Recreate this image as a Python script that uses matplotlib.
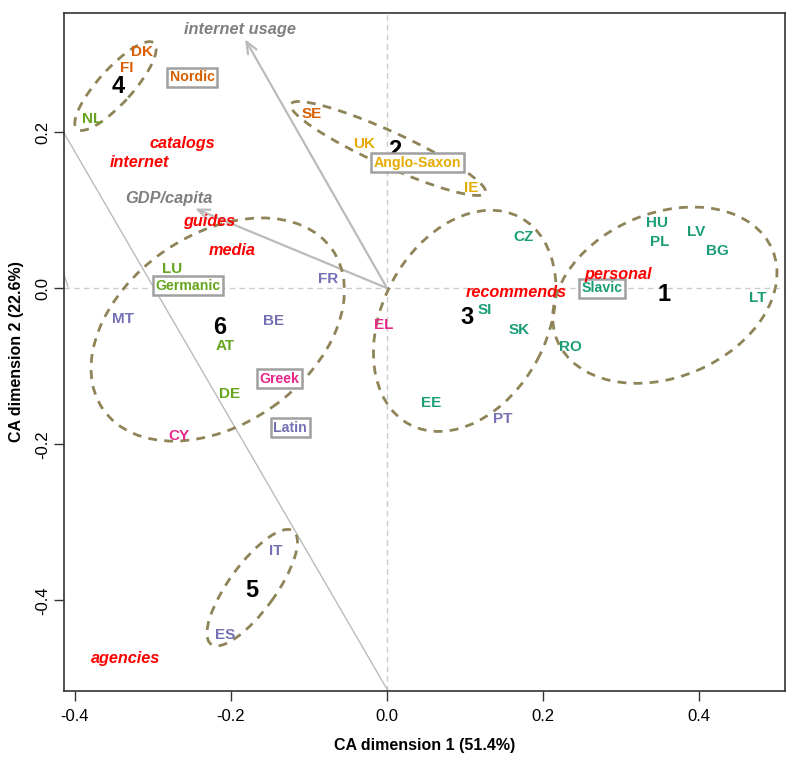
import numpy as np
import matplotlib.pyplot as plt
from matplotlib.patches import Ellipse

plt.rcParams['font.family'] = ['Liberation Sans', 'DejaVu Sans']

# column points (countries)
countries = ['DK', 'FI', 'NL', 'SE', 'UK', 'IE', 'CZ', 'HU', 'PL', 'LV', 'BG', 'LT',
             'SI', 'SK', 'RO', 'EE', 'PT', 'EL', 'LU', 'FR', 'MT', 'BE', 'AT', 'DE',
             'CY', 'IT', 'ES']
cx = [-0.314, -0.334, -0.378, -0.096, -0.029, 0.108, 0.175, 0.346, 0.349, 0.396, 0.423, 0.475,
      0.125, 0.169, 0.235, 0.057, 0.148, -0.004, -0.275, -0.075, -0.338, -0.146, -0.207, -0.202,
      -0.267, -0.142, -0.208]
cy = [0.303, 0.282, 0.217, 0.223, 0.185, 0.129, 0.065, 0.083, 0.059, 0.072, 0.048, -0.013,
      -0.028, -0.054, -0.075, -0.147, -0.168, -0.047, 0.025, 0.012, -0.039, -0.042, -0.074, -0.136,
      -0.189, -0.337, -0.444]
region = ['Nordic', 'Nordic', 'Germanic', 'Nordic', 'Anglo-Saxon', 'Anglo-Saxon', 'Slavic',
          'Slavic', 'Slavic', 'Slavic', 'Slavic', 'Slavic', 'Slavic', 'Slavic', 'Slavic', 'Slavic',
          'Latin', 'Greek', 'Germanic', 'Latin', 'Latin', 'Latin', 'Germanic', 'Germanic', 'Greek',
          'Latin', 'Latin']

# region labels (boxed)
regions = ['Nordic', 'Anglo-Saxon', 'Slavic', 'Germanic', 'Greek', 'Latin']
region_x = [-0.250, 0.039, 0.275, -0.255, -0.138, -0.124]
region_y = [0.270, 0.161, 0.000, 0.003, -0.116, -0.179]
region_col = {'Nordic': '#D95F02', 'Anglo-Saxon': '#E6AB02', 'Slavic': '#1B9E77',
              'Germanic': '#66A61E', 'Greek': '#E7298A', 'Latin': '#7570B3'}

# row points (sources of information)
sources = ['catalogs', 'internet', 'guides', 'media', 'personal', 'recommends', 'agencies']
sx = [-0.263, -0.3175, -0.228, -0.198, 0.296, 0.165, -0.3345]
sy = [0.185, 0.161, 0.086, 0.048, 0.017, -0.0055, -0.474]

# supplementary variables (arrows)
supp = ['internet usage', 'GDP/capita']
supp_tip_x = [-0.182, -0.246]
supp_tip_y = [0.319, 0.102]
supp_lab_x = [-0.189, -0.280]
supp_lab_y = [0.332, 0.1146]

# clusters: label position and ellipse (center, semi axes, angle)
clusters = ['1', '2', '3', '4', '5', '6']
clus_x = [0.355, 0.010, 0.103, -0.345, -0.173, -0.2146]
clus_y = [-0.008, 0.176, -0.037, 0.258, -0.387, -0.050]
ell_x = [0.356, 0.0013, 0.0995, -0.348, -0.1728, -0.217]
ell_y = [-0.009, 0.179, -0.0419, 0.259, -0.3838, -0.053]
ell_a = [0.1496, 0.137, 0.1504, 0.074, 0.0896, 0.179]
ell_b = [0.105, 0.022, 0.1056, 0.022, 0.030, 0.1215]
ell_ang = [23, -24.5, 62, 48, 54, 35]

fig = plt.figure(figsize=(7.94, 7.61), dpi=100)
ax = fig.add_axes([0.0806, 0.0907, 0.9081, 0.8935])

ax.axhline(0, color='#CCCCCC', ls=(0, (4, 3)), lw=1, zorder=1)
ax.axvline(0, color='#CCCCCC', ls=(0, (4, 3)), lw=1, zorder=1)

# thin gray lines
ax.plot([-0.42, 0.0], [0.2092, -0.514], color='#BBBBBB', lw=1, zorder=1)
ax.plot([-0.416, -0.409], [0.024, 0.002], color='#BBBBBB', lw=1, zorder=1)

for i in range(len(supp)):
    ax.annotate('', xy=(supp_tip_x[i], supp_tip_y[i]), xytext=(0, 0),
                arrowprops=dict(arrowstyle='->,head_length=0.6,head_width=0.25', color='#BBBBBB',
                                lw=1.6, mutation_scale=14, shrinkA=0, shrinkB=0), zorder=2)
    ax.text(supp_lab_x[i], supp_lab_y[i], supp[i], color='#7F7F7F', fontsize=11.8,
            fontweight='bold', style='italic', ha='center', va='center', zorder=4)

for i in range(len(clusters)):
    e = Ellipse((ell_x[i], ell_y[i]), 2 * ell_a[i], 2 * ell_b[i], angle=ell_ang[i],
                fill=False, edgecolor='#8E8458', lw=2, ls=(0, (3.2, 2.6)), zorder=3)
    ax.add_patch(e)
    ax.text(clus_x[i], clus_y[i], clusters[i], color='black', fontsize=17,
            fontweight='bold', ha='center', va='center', zorder=5)

for i in range(len(countries)):
    ax.text(cx[i], cy[i], countries[i], color=region_col[region[i]], fontsize=11,
            fontweight='bold', ha='center', va='center', zorder=5)

for i in range(len(regions)):
    ax.text(region_x[i], region_y[i], regions[i], color=region_col[regions[i]], fontsize=10.2,
            fontweight='bold', ha='center', va='center', zorder=5,
            bbox=dict(boxstyle='square,pad=0.18', fc='white', ec='#A0A0A0', lw=1.8))

for i in range(len(sources)):
    ax.text(sx[i], sy[i], sources[i], color='#FF0000', fontsize=11.7, fontweight='bold',
            style='italic', ha='center', va='center', zorder=6)

ax.set_xlim(-0.414, 0.510)
ax.set_ylim(-0.5163, 0.3527)
ax.set_aspect('equal')

ax.set_xticks([-0.4, -0.2, 0.0, 0.2, 0.4])
ax.set_xticklabels(['-0.4', '-0.2', '0.0', '0.2', '0.4'])
ax.set_yticks([-0.4, -0.2, 0.0, 0.2])
ax.set_yticklabels(['-0.4', '-0.2', '0.0', '0.2'], rotation=90, va='center')
ax.tick_params(direction='out', length=7, width=1, labelsize=12, color='#333333')
ax.tick_params(axis='x', pad=6)
ax.tick_params(axis='y', pad=3)
for s in ax.spines.values():
    s.set_color('#333333')
    s.set_linewidth(1.2)

ax.set_xlabel('CA dimension 1 (51.4%)', fontsize=11.5, fontweight='bold', labelpad=10)
ax.set_ylabel('CA dimension 2 (22.6%)', fontsize=11.5, fontweight='bold', labelpad=8)

fig.savefig('out.png', dpi=100)
